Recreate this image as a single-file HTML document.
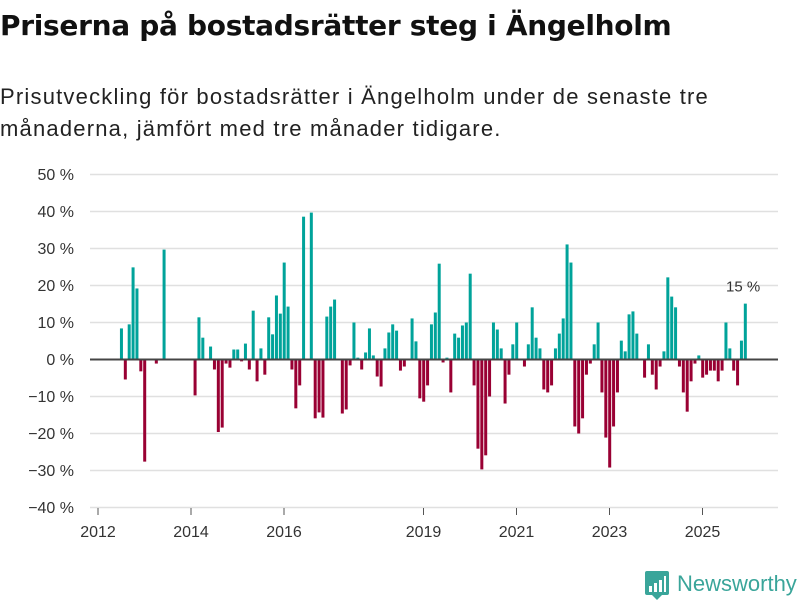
<!DOCTYPE html>
<html><head><meta charset="utf-8"><style>
body{margin:0;background:#fff;font-family:"Liberation Sans",sans-serif;}
#wrap{position:relative;width:800px;height:600px;overflow:hidden;}
h1{position:absolute;left:0;top:9px;margin:0;font-family:"DejaVu Sans",sans-serif;font-size:28px;font-weight:bold;color:#111;letter-spacing:-0.3px;white-space:nowrap}
#sub{position:absolute;left:0;top:81px;margin:0;font-size:22px;line-height:32px;color:#222;width:760px;letter-spacing:1.2px;white-space:nowrap}
svg{position:absolute;left:0;top:0}
</style></head><body><div id="wrap">
<h1>Priserna på bostadsrätter steg i Ängelholm</h1>
<p id="sub">Prisutveckling för bostadsrätter i Ängelholm under de senaste tre<br>månaderna, jämfört med tre månader tidigare.</p>
<svg id="chart" width="800" height="600"></svg>
</div>
<script>
// monthly values starting at Jul 2012 (month index 6 from Jan 2012); null = no data
const startMonth = 6;
const values = [8.4,-5.4,9.5,24.9,19.2,-3.2,-27.6,null,null,-1.1,null,29.7,
null,null,null,null,null,null,null,-9.7,11.4,5.9,null,3.5,-2.7,-19.6,-18.4,-1.1,-2.2,2.7,2.7,-0.5,4.3,-2.7,13.2,-5.9,3.0,-4.1,11.4,6.8,17.3,12.4,
26.2,14.3,-2.7,-13.2,-7.0,38.6,null,39.7,-15.9,-14.3,-15.7,11.6,14.3,16.2,null,-14.6,-13.5,-1.6,10.0,0.5,-2.7,1.9,8.4,1.1,
-4.6,-7.3,3.0,7.3,9.5,7.8,-3.0,-1.9,null,11.1,4.9,-10.5,-11.4,-7.0,9.5,12.7,25.9,-0.8,0.5,-8.9,7.0,5.9,9.2,10.0,
23.2,-7.0,-24.1,-29.7,-25.9,-10.0,10.0,8.1,3.0,-11.9,-4.1,4.1,10.0,null,-1.9,4.1,14.1,5.9,3.0,-8.1,-8.9,-7.0,3.0,7.0,
11.1,31.1,26.2,-18.1,-20.0,-15.9,-4.1,-1.1,4.1,10.0,-8.9,-21.1,-29.2,-18.1,-8.9,5.1,2.2,12.2,13.0,7.0,null,-4.9,4.1,-4.1,
-8.1,-1.9,2.2,22.2,17.0,14.1,-1.9,-8.9,-14.1,-5.9,-1.1,1.1,-4.9,-4.1,-3.0,-3.0,-5.9,-3.0,10.0,3.0,-3.0,-7.0,5.1,15.1];
const yTicks = [50,40,30,20,10,0,-10,-20,-30,-40];
const yTickLabels = ["50 %","40 %","30 %","20 %","10 %","0 %","−10 %","−20 %","−30 %","−40 %"];
const xTickYears = [2012,2014,2016,2019,2021,2023,2025];
const lastLabel = "15 %";

const svg = document.getElementById('chart');
const NS = 'http://www.w3.org/2000/svg';
const x = m => 98 + m * 3.875;
const y = v => 359.5 - v * 3.7;
function el(tag, attrs, parent){const e=document.createElementNS(NS,tag);for(const k in attrs)e.setAttribute(k,attrs[k]);(parent||svg).appendChild(e);return e;}

yTicks.forEach((t,i)=>{
  if(t!==0){const g=el('line',{x1:90,x2:778,y1:y(t),y2:y(t),stroke:'#e0e0e0','stroke-width':1.5});
  
  }
  const tx=el('text',{x:74,y:y(t)+5.5,'text-anchor':'end','font-size':16,fill:'#333','font-family':'Liberation Sans, sans-serif'});
  tx.textContent=yTickLabels[i];
  
  
});
xTickYears.forEach(yr=>{
  const m=(yr-2012)*12;
  const tk=el('line',{x1:x(m),x2:x(m),y1:508,y2:515,stroke:'#555','stroke-width':1});
  
  
  const tx=el('text',{x:x(m),y:537,'text-anchor':'middle','font-size':16,fill:'#333','font-family':'Liberation Sans, sans-serif'});
  tx.textContent=yr;
  
  
});
let lastI=-1;
values.forEach((v,i)=>{
  if(v===null)return;
  lastI=i;
  const m=startMonth+i;
  const y0=y(0),y1=y(v);
  const b=el('rect',{x:x(m)-1.3,y:Math.min(y0,y1),width:3,height:Math.abs(y1-y0),fill:v>=0?'#00a39a':'#990033'});
  
  
});
const zl=el('line',{x1:90,x2:778,y1:y(0),y2:y(0),stroke:'#444','stroke-width':2});


const lm=startMonth+lastI;
const lb=el('text',{x:x(lm)-2,y:y(values[lastI])-12,'text-anchor':'middle','font-size':15,fill:'#333','font-family':'Liberation Sans, sans-serif'});
lb.textContent=lastLabel;



const lg=el('g',{});


el('rect',{x:645,y:571,width:24,height:24,rx:2,fill:'#3aa59a'},lg);
el('polygon',{points:'652,595 662,595 657,600',fill:'#3aa59a'},lg);
[[649,586,3,6],[654,583,3,9],[659,580,3,12],[664,576,2,16]].forEach(r=>el('rect',{x:r[0],y:r[1],width:r[2],height:r[3],fill:'#fff'},lg));
const lt=el('text',{x:677,y:591,'font-size':22,fill:'#3aa59a','font-family':'Liberation Sans, sans-serif'},lg);
lt.textContent='Newsworthy';
</script></body></html>
